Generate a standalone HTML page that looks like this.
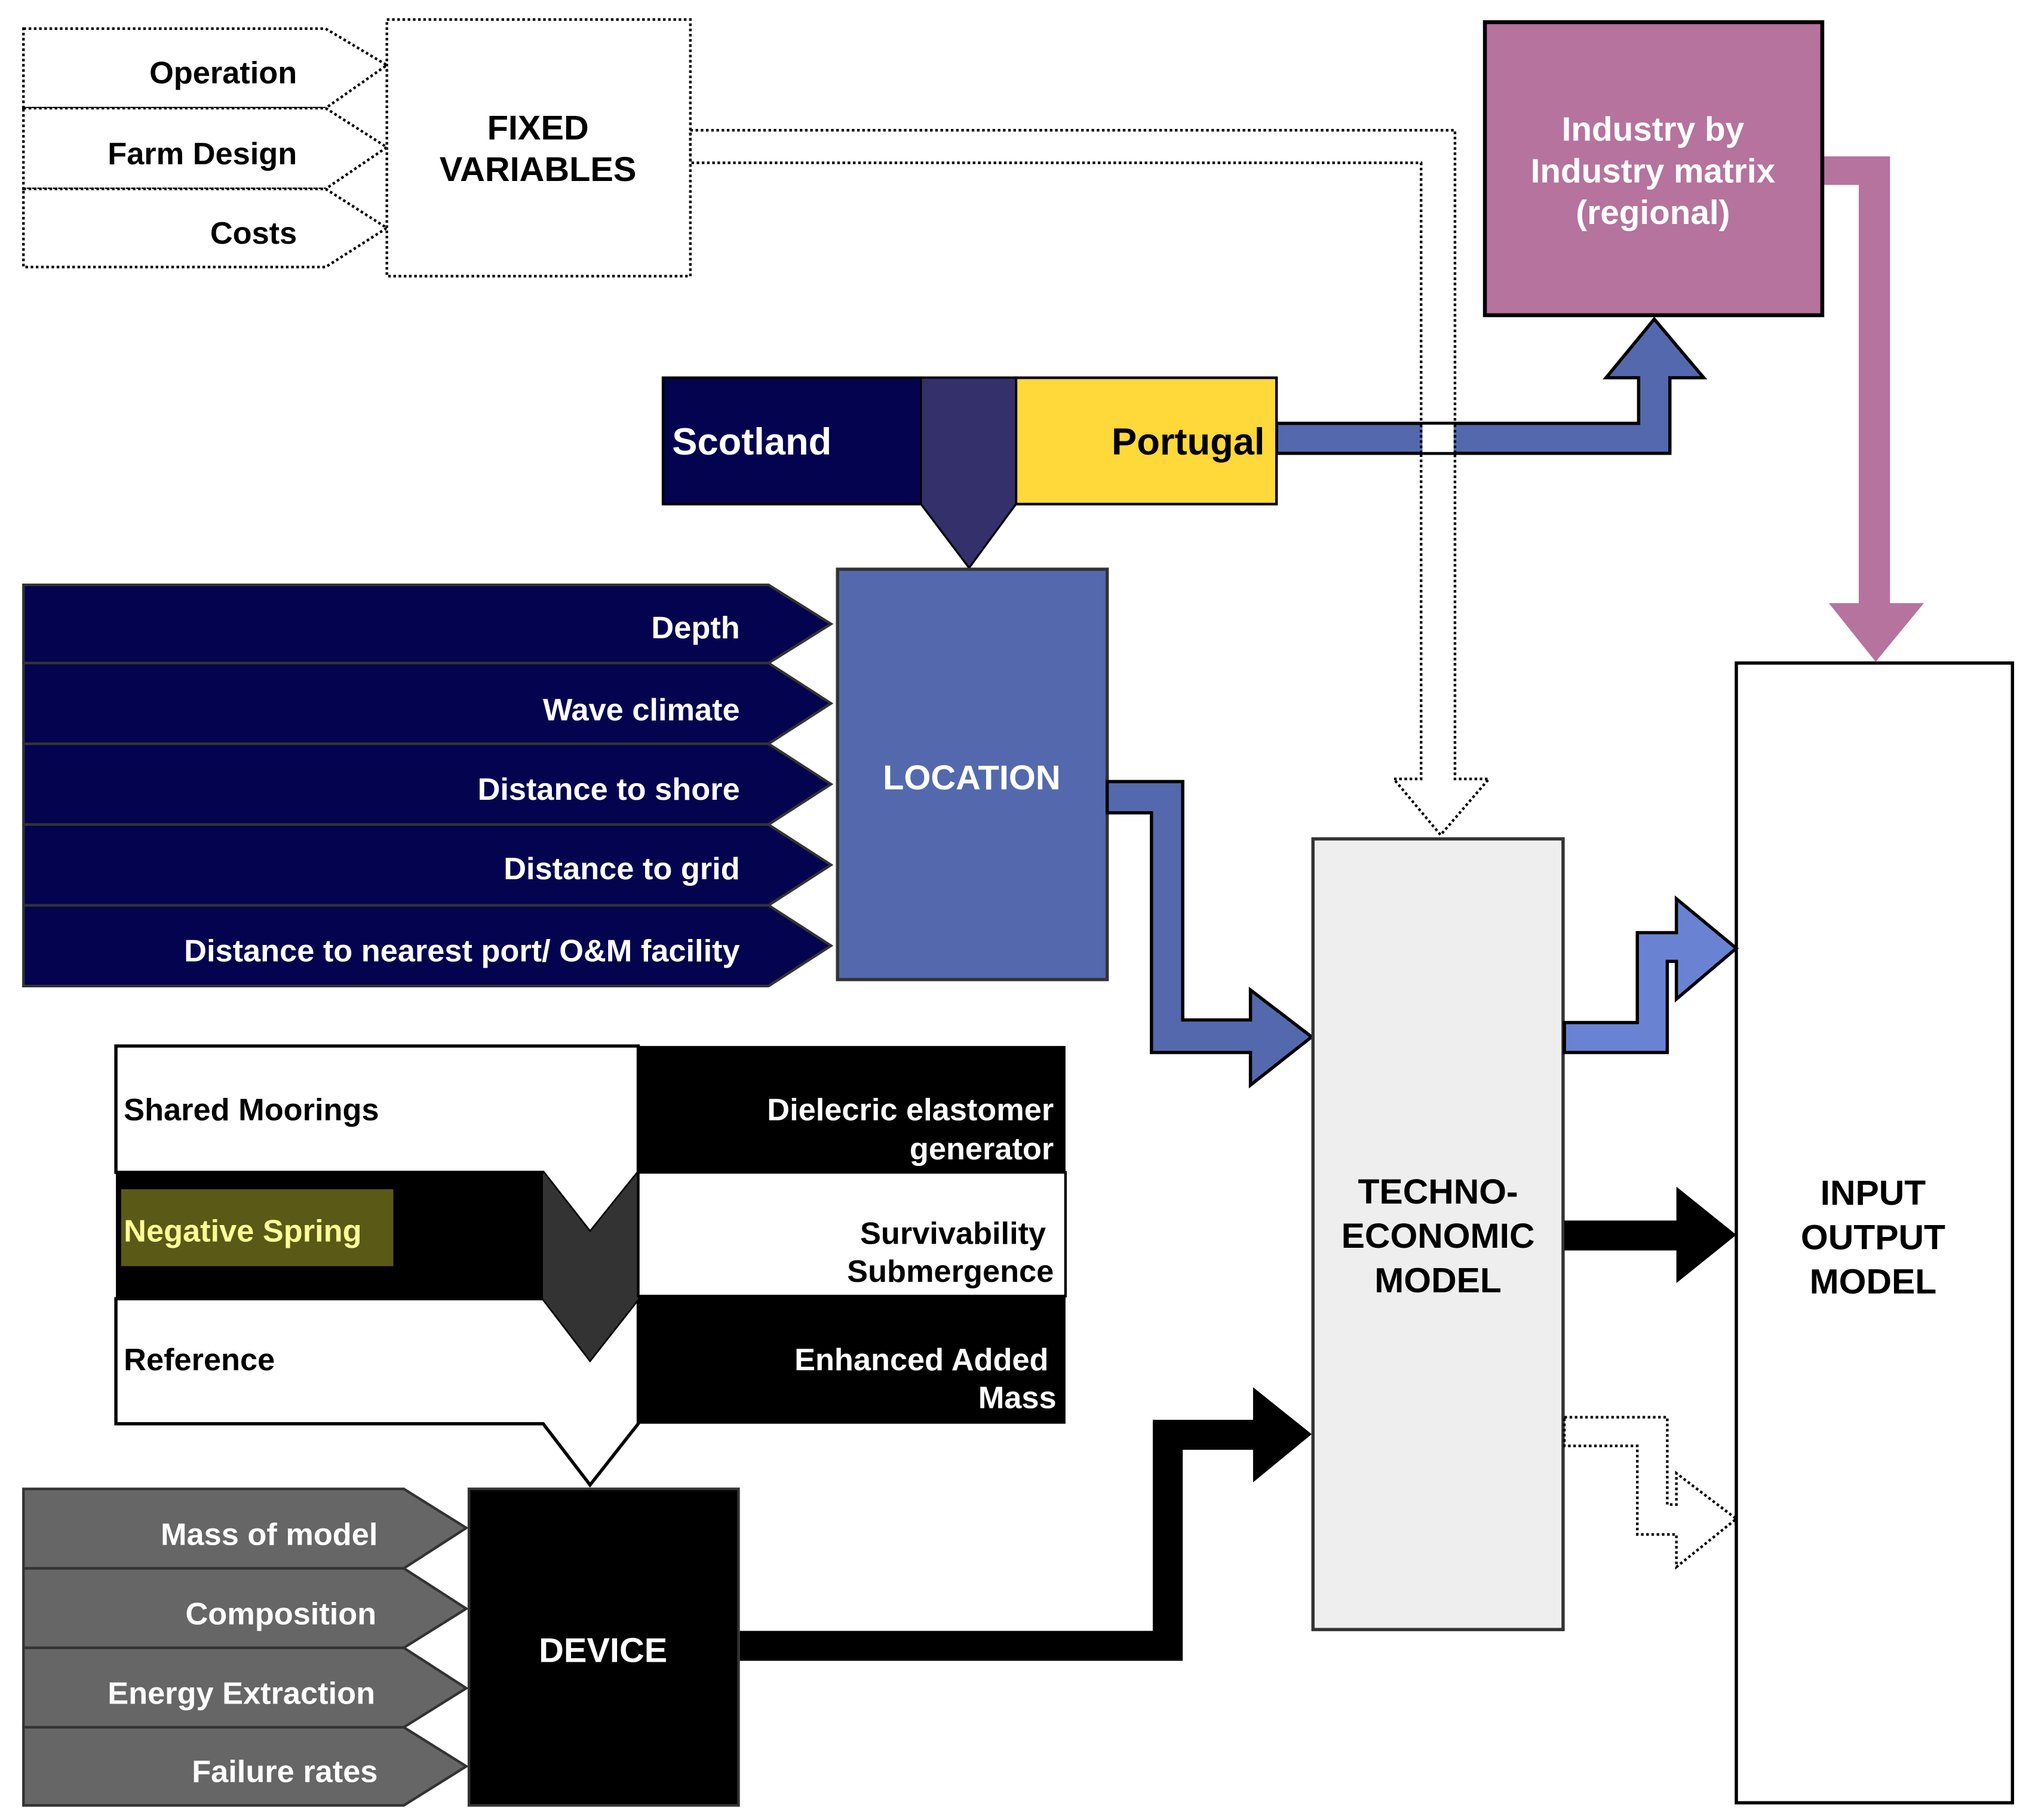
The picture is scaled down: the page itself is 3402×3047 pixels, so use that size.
<!DOCTYPE html>
<html><head><meta charset="utf-8"><style>
html,body{margin:0;padding:0;background:#fff;}
svg{display:block;}
text{font-family:"Liberation Sans",sans-serif;font-weight:bold;}
</style></head><body>
<svg width="3402" height="3047" viewBox="0 0 1560 1397.2" xmlns="http://www.w3.org/2000/svg">
<rect x="0" y="0" width="1560" height="1398" fill="#fff"/>
<g fill="#fff" stroke="#000" stroke-width="2" stroke-dasharray="2,2">
<polygon points="18,22 250,22 297,50 250,83 18,83"/>
<polygon points="18,83 250,83 297,113 250,145 18,145"/>
<polygon points="18,145 250,145 297,175 250,205 18,205"/>
<rect x="297" y="15" width="233" height="197"/>
</g>
<g font-size="24" text-anchor="end" fill="#000">
<text x="228" y="64">Operation</text>
<text x="228" y="126">Farm Design</text>
<text x="228" y="187">Costs</text>
</g>
<text x="413" y="107" font-size="26.5" text-anchor="middle">FIXED</text>
<text x="413" y="139" font-size="26.5" text-anchor="middle">VARIABLES</text>
<polygon points="530,100 1117,100 1117,598 1143,598 1106,641 1070,598 1091,598 1091,125 530,125" fill="none" stroke="#000" stroke-width="2" stroke-dasharray="2,2"/>
<polygon points="1399,120 1451,120 1451,463 1477,463 1440,508 1404,463 1427,463 1427,142 1399,142" fill="#b5739d"/>
<rect x="1140" y="17" width="259" height="225" fill="#b5739d" stroke="#000" stroke-width="3"/>
<g font-size="26" text-anchor="middle" fill="#fff">
<text x="1269" y="108">Industry by</text>
<text x="1269" y="140">Industry matrix</text>
<text x="1269" y="172">(regional)</text>
</g>
<polygon points="980,325 1258,325 1258,290 1233,290 1270,245 1308,290 1282,290 1282,348 980,348" fill="#5469ad" stroke="#000" stroke-width="2.5"/>
<rect x="1092" y="326" width="24" height="21" fill="#fff"/>
<line x1="1091" y1="326" x2="1091" y2="347" stroke="#000" stroke-width="2" stroke-dasharray="2,2"/>
<line x1="1117" y1="326" x2="1117" y2="347" stroke="#000" stroke-width="2" stroke-dasharray="2,2"/>
<rect x="509" y="290" width="271" height="97" fill="#03034f" stroke="#000" stroke-width="2"/>
<rect x="780" y="290" width="200" height="97" fill="#ffd83a" stroke="#000" stroke-width="2"/>
<polygon points="707,290 780,290 780,387 744,436 707,387" fill="#33306b" stroke="#000" stroke-width="1.5"/>
<text x="516" y="349" font-size="29" fill="#fff">Scotland</text>
<text x="971" y="349" font-size="29" fill="#000" text-anchor="end">Portugal</text>
<g fill="#03034f" stroke="#333" stroke-width="2">
<polygon points="18,449 590,449 638,479 590,509 18,509"/>
<polygon points="18,509 590,509 638,540 590,571 18,571"/>
<polygon points="18,571 590,571 638,602 590,633 18,633"/>
<polygon points="18,633 590,633 638,664 590,695 18,695"/>
<polygon points="18,695 590,695 638,726 590,757 18,757"/>
</g>
<g font-size="24" text-anchor="end" fill="#fff">
<text x="568" y="490">Depth</text>
<text x="568" y="553">Wave climate</text>
<text x="568" y="614">Distance to shore</text>
<text x="568" y="675">Distance to grid</text>
<text x="568" y="738">Distance to nearest port/ O&amp;M facility</text>
</g>
<rect x="643" y="437" width="207" height="315" fill="#5469ad" stroke="#333" stroke-width="2.5"/>
<text x="746" y="606" font-size="26.5" fill="#fff" text-anchor="middle">LOCATION</text>
<polygon points="850,600 908,600 908,783 960,783 960,760 1007,796 960,833 960,808 884,808 884,624 850,624" fill="#5469ad" stroke="#000" stroke-width="2.5"/>
<rect x="1008" y="644" width="192" height="607" fill="#eeeeee" stroke="#333" stroke-width="2.5"/>
<g font-size="27" text-anchor="middle" fill="#000">
<text x="1104" y="924">TECHNO-</text>
<text x="1104" y="958">ECONOMIC</text>
<text x="1104" y="992">MODEL</text>
</g>
<rect x="1333" y="509" width="212" height="875" fill="#fff" stroke="#000" stroke-width="2.5"/>
<g font-size="27" text-anchor="middle" fill="#000">
<text x="1438" y="925">INPUT</text>
<text x="1438" y="959">OUTPUT</text>
<text x="1438" y="993">MODEL</text>
</g>
<polygon points="1201,785 1257,785 1257,716 1287,716 1287,690 1333,728 1287,767 1287,738 1280,738 1280,808 1201,808" fill="#6a82d2" stroke="#000" stroke-width="2.5"/>
<polygon points="1201,937 1287,937 1287,911 1333,948 1287,985 1287,960 1201,960" fill="#000"/>
<polygon points="1201,1088 1280,1088 1280,1155 1287,1155 1287,1131 1333,1166 1287,1203 1287,1178 1257,1178 1257,1110 1201,1110" fill="none" stroke="#000" stroke-width="2" stroke-dasharray="2,2"/>
<polygon points="89,803 490,803 490,900 453,946 417,900 89,900" fill="#fff" stroke="#000" stroke-width="2.5"/>
<rect x="89" y="900" width="328" height="97" fill="#000"/>
<polygon points="89,997 417,997 453,1044 490,997 490,1093 453,1140 417,1093 89,1093" fill="#fff" stroke="#000" stroke-width="2.5"/>
<polygon points="417,900 453,946 490,900 490,997 453,1044 417,997" fill="#333"/>
<rect x="490" y="803" width="328" height="97" fill="#000"/>
<rect x="490" y="900" width="328" height="95" fill="#fff" stroke="#000" stroke-width="2"/>
<rect x="490" y="995" width="328" height="98" fill="#000"/>
<rect x="93" y="913" width="209" height="59" fill="#5a5a16"/>
<g font-size="24" fill="#000">
<text x="95" y="860">Shared Moorings</text>
<text x="95" y="953" fill="#ffff99">Negative Spring</text>
<text x="95" y="1052">Reference</text>
</g>
<g font-size="24" text-anchor="end">
<text x="809" y="860" fill="#fff">Dielecric elastomer</text>
<text x="809" y="890" fill="#fff">generator</text>
<text x="803" y="955" fill="#000">Survivability</text>
<text x="809" y="984" fill="#000">Submergence</text>
<text x="805" y="1052" fill="#fff">Enhanced Added</text>
<text x="811" y="1081" fill="#fff">Mass</text>
</g>
<g fill="#666" stroke="#333" stroke-width="2">
<polygon points="18,1143 310,1143 358,1173 310,1204 18,1204"/>
<polygon points="18,1204 310,1204 358,1235 310,1265 18,1265"/>
<polygon points="18,1265 310,1265 358,1296 310,1326 18,1326"/>
<polygon points="18,1326 310,1326 358,1356 310,1386 18,1386"/>
</g>
<g font-size="24" text-anchor="end" fill="#fff">
<text x="290" y="1186">Mass of model</text>
<text x="289" y="1247">Composition</text>
<text x="288" y="1308">Energy Extraction</text>
<text x="290" y="1368">Failure rates</text>
</g>
<rect x="360" y="1143" width="207" height="243" fill="#000" stroke="#333" stroke-width="2"/>
<text x="463" y="1276" font-size="26.5" fill="#fff" text-anchor="middle">DEVICE</text>
<polygon points="568,1252 885,1252 885,1090 962,1090 962,1065 1007,1101 962,1138 962,1113 908,1113 908,1275 568,1275" fill="#000"/>
</svg>
</body></html>
